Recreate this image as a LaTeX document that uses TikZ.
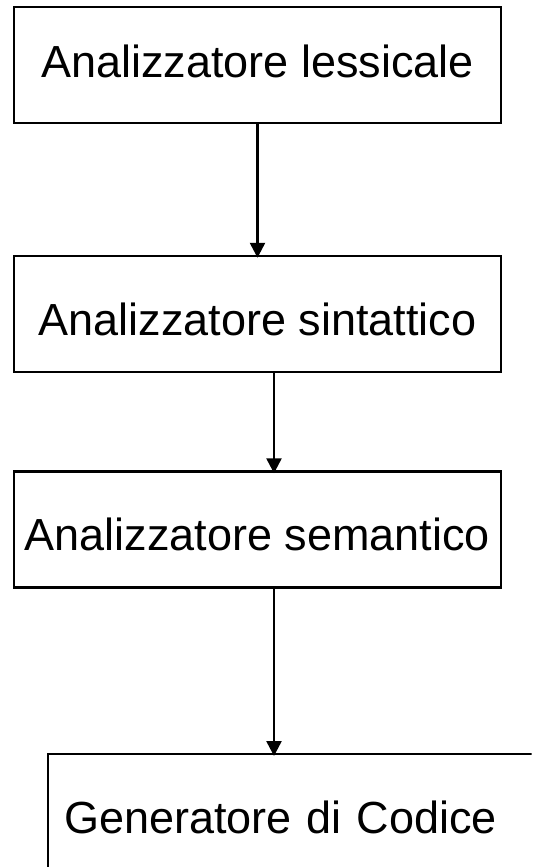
\documentclass[tikz,border=0pt]{standalone}
\usepackage{fontspec}
\setmainfont{Liberation Sans}
\usetikzlibrary{arrows.meta}
\usetikzlibrary{positioning}

\begin{document}
\begin{tikzpicture}[
  stage/.style={draw=black,line width=1.4pt,minimum width=9.74cm,minimum height=2.32cm,inner sep=0pt,font=\fontsize{25.6}{30}\selectfont,text height=24.4pt,text depth=0pt},
  flow/.style={line width=1.4pt,-{Triangle[width=0.3cm,length=0.3cm]},shorten >=-0.06cm}]
\useasboundingbox (0,0) rectangle (10.66,-17.34);
\clip (0,0) rectangle (10.63,-17.34);
\node[stage,text height=18.7pt,text depth=4.5pt] (lex) at (5.15,-1.30) {Analizzatore lessicale};
\node[stage] (syn) at (5.15,-6.28) {Analizzatore sintattico};
\node[stage] (sem) at (5.15,-10.59) {Analizzatore semantico};
\node[stage,minimum width=11cm,text width=10.36cm,align=left,anchor=north west] (gen) at (0.94,-15.06) {Generatore di Codice};

\draw[flow] (lex.south) -- (syn.north);
\draw[flow] ([xshift=0.33cm]syn.south) -- ([xshift=0.33cm]syn.south |- sem.north);
\draw[flow] ([xshift=0.33cm]sem.south) -- ([xshift=0.33cm]sem.south |- gen.north);

\end{tikzpicture}
\end{document}
